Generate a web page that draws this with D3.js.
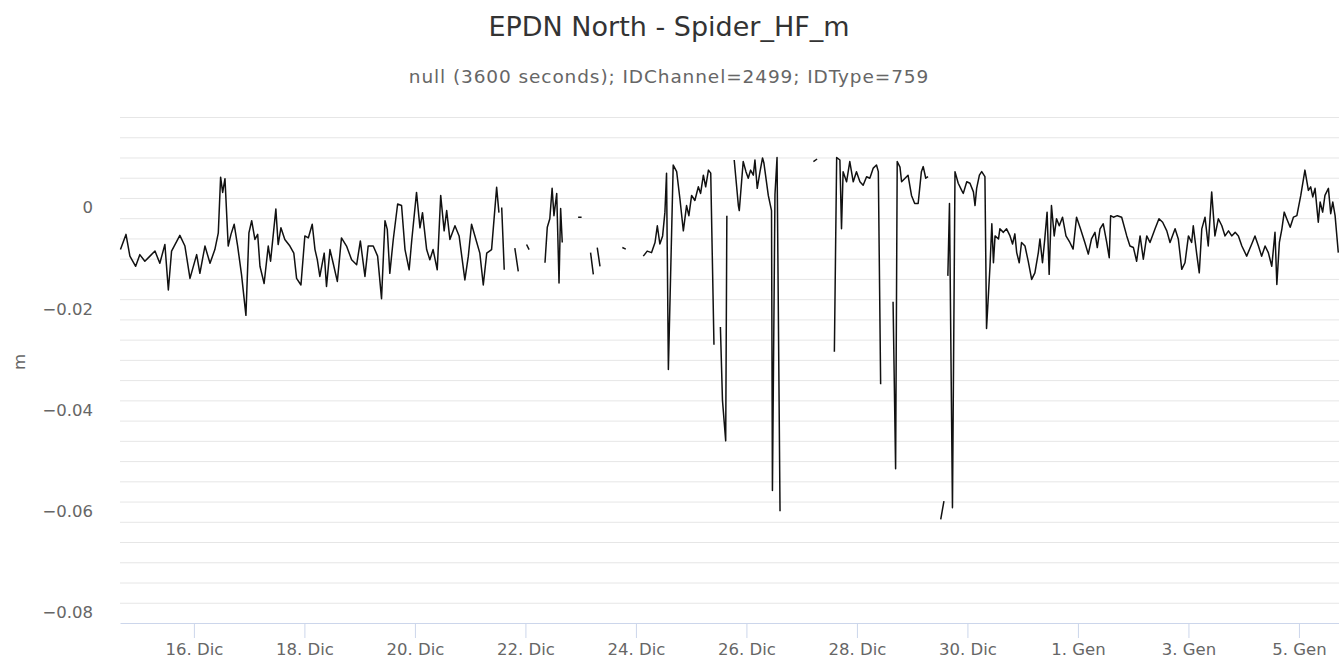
<!DOCTYPE html>
<html>
<head>
<meta charset="utf-8">
<script src="https://cdn.jsdelivr.net/npm/d3@7/dist/d3.min.js"></script>
<style>
html, body { margin: 0; padding: 0; background: #fff; }
svg { display: block; font-family: "DejaVu Sans", sans-serif; }
</style>
</head>
<body>
<div id="chart"></div>
<script>
var chartTitle = "EPDN North - Spider_HF_m";
var chartSubtitle = "null (3600 seconds); IDChannel=2499; IDType=759";
var yTitle = "m";

// hours from 16 Dic 00:00 (UTC); null marks a gap in the series
var obsHours = [
  -31.9,-29.5,-27.8,-25.3,-23.5,-21.3,-19.1,-16.9,-14.8,-12.6,-11.1,-9.7,-6.1,-3.9,-1.7,
  1.2,2.6,4.8,7.0,9.1,10.6,11.6,12.5,13.5,14.9,16.1,17.5,19.0,20.7,22.6,23.9,25.1,26.5,27.7,
  28.7,30.5,32.3,33.3,35.6,36.6,37.8,39.5,41.7,43.4,44.6,46.5,48.2,49.7,51.4,52.6,53.6,54.7,
  56.6,57.6,59.1,60.5,62.3,64.1,66.3,68.5,70.7,72.3,74.3,75.7,77.9,79.8,81.5,83.0,84.0,85.1,
  86.6,88.5,90.2,91.7,93.5,94.6,96.7,98.2,99.3,101.1,102.5,103.9,105.7,107.2,108.7,109.8,
  111.2,113.4,115.2,117.7,119.2,120.6,122.5,124.2,125.7,127.2,129.3,131.5,132.5,null,
  133.7,134.8,null,139.4,140.9,null,144.5,145.6,null,
  152.5,153.5,154.6,155.6,156.4,157.6,158.6,159.3,160.0,null,
  166.9,168.4,null,172.3,173.5,null,175.2,176.4,null,186.1,187.6,null,
  195.2,196.9,198.8,200.3,201.3,202.4,203.6,204.6,205.3,206.1,208.2,209.7,211.1,212.6,214.0,
  215.0,216.2,217.6,219.1,220.1,221.3,222.3,223.5,224.5,225.9,null,
  228.7,229.6,231.0,231.5,null,
  234.7,236.5,236.9,237.9,238.6,239.8,240.8,241.8,243.0,243.7,244.7,245.9,247.0,247.6,249.5,
  250.9,251.3,252.4,253.3,254.6,null,
  269.1,270.7,null,
  278.2,279.2,280.6,281.3,282.0,283.5,284.9,286.4,287.8,289.3,290.7,292.2,293.6,295.1,296.5,
  297.3,298.3,null,
  303.7,304.8,305.5,306.7,307.4,310.2,311.7,313.1,314.6,316.0,316.8,317.9,318.9,null,
  324.4,325.8,null,
  327.5,328.2,329.5,330.6,332.0,333.5,334.2,335.7,337.1,338.6,339.3,340.0,341.2,342.2,343.6,
  344.3,345.8,346.6,347.3,348.0,349.5,350.1,351.6,353.0,354.5,355.6,356.6,357.4,358.5,359.5,
  361.0,362.4,363.9,365.3,366.8,367.5,368.6,369.6,370.6,371.5,372.5,373.7,374.7,375.9,377.3,
  378.8,380.5,381.9,383.4,385.1,387.0,388.5,389.9,391.4,392.4,393.6,395.0,396.5,397.6,398.2,
  399.4,401.1,403.0,405.2,406.6,408.1,409.5,411.0,412.4,413.9,415.3,417.5,419.2,420.8,422.6,
  424.0,426.2,427.6,429.1,430.5,432.0,433.4,434.1,435.6,436.7,437.8,439.2,440.6,442.1,443.5,
  445.0,446.5,447.9,449.4,450.8,452.3,453.7,455.2,457.3,459.5,460.9,462.4,463.8,465.3,466.7,
  468.2,469.6,470.4,471.5,472.6,473.6,474.7,476.2,477.6,479.1,480.8,482.6,484.1,485.1,486.0,
  487.0,488.4,489.2,490.3,491.3,492.8,493.8,494.7,495.7,497.1
];
var obsValues = [
  -0.0102,-0.0072,-0.0115,-0.0135,-0.0112,-0.0125,-0.0115,-0.0105,-0.0129,-0.0092,-0.0182,-0.0105,-0.0074,-0.0095,-0.0159,
  -0.0112,-0.0149,-0.0095,-0.0129,-0.0102,-0.0069,0.0041,0.0011,0.0038,-0.0095,-0.0072,-0.0052,-0.0095,-0.0152,-0.0232,-0.0069,-0.0045,-0.0082,-0.0072,
  -0.0135,-0.0169,-0.0095,-0.0125,-0.0022,-0.0092,-0.0059,-0.0082,-0.0095,-0.0109,-0.0159,-0.0172,-0.0075,-0.0079,-0.0052,-0.0102,-0.0122,-0.0155,
  -0.0109,-0.0175,-0.0102,-0.0129,-0.0165,-0.0079,-0.0095,-0.0122,-0.0132,-0.0085,-0.0155,-0.0095,-0.0095,-0.0115,-0.0199,-0.0045,-0.0062,-0.0149,
  -0.0082,-0.0012,-0.0015,-0.0102,-0.0142,-0.0085,0.0011,-0.0059,-0.0029,-0.0102,-0.0122,-0.0102,-0.0142,0.0005,-0.0065,-0.0025,
  -0.0082,-0.0055,-0.0075,-0.0162,-0.0115,-0.0052,-0.0082,-0.0109,-0.0172,-0.0109,-0.0102,0.0021,-0.0029,null,
  -0.0019,-0.0142,null,-0.0099,-0.0145,null,-0.0092,-0.0102,null,
  -0.0128,-0.0058,-0.0041,0.0019,-0.0035,0.0009,-0.0168,-0.0021,-0.0088,null,
  -0.0038,-0.0038,null,-0.0108,-0.0151,null,-0.0098,-0.0135,null,-0.0098,-0.0101,null,
  -0.0115,-0.0105,-0.0108,-0.0088,-0.0055,-0.0091,-0.0075,-0.0028,0.0049,-0.0339,0.0065,0.0052,-0.0001,-0.0065,-0.0015,
  -0.0035,0.0005,-0.0005,0.0022,0.0009,0.0045,0.0022,0.0055,0.0049,-0.0290,null,
  -0.0255,-0.0400,-0.0480,-0.0035,null,
  0.0075,-0.0015,-0.0025,0.0032,0.0072,0.0052,0.0039,0.0055,0.0045,0.0075,0.0019,0.0052,0.0079,0.0069,0.0005,
  -0.0025,-0.0578,0.0007,0.0080,-0.0619,null,
  0.0072,0.0077,null,
  -0.0304,0.0080,0.0075,-0.0061,0.0052,0.0032,0.0072,0.0032,0.0052,0.0032,0.0025,0.0042,0.0039,0.0059,0.0065,
  0.0052,-0.0368,null,
  -0.0205,-0.0535,0.0072,0.0061,0.0032,0.0045,0.0005,-0.0011,-0.0011,0.0052,0.0062,0.0039,0.0042,null,
  -0.0635,-0.0599,null,
  -0.0154,-0.0011,-0.0612,0.0052,0.0029,0.0015,0.0009,0.0032,0.0029,0.0012,-0.0015,0.0019,0.0045,0.0052,0.0042,
  -0.0258,-0.0135,-0.0051,-0.0128,-0.0075,-0.0081,-0.0061,-0.0068,-0.0061,-0.0075,-0.0091,-0.0071,-0.0108,-0.0128,-0.0088,
  -0.0095,-0.0125,-0.0161,-0.0148,-0.0108,-0.0081,-0.0128,-0.0081,-0.0028,-0.0151,-0.0015,-0.0075,-0.0041,-0.0055,-0.0038,
  -0.0075,-0.0088,-0.0101,-0.0038,-0.0061,-0.0088,-0.0111,-0.0081,-0.0068,-0.0098,-0.0061,-0.0051,-0.0088,-0.0118,-0.0035,
  -0.0038,-0.0035,-0.0038,-0.0075,-0.0095,-0.0098,-0.0125,-0.0075,-0.0121,-0.0075,-0.0088,-0.0061,-0.0041,-0.0048,-0.0065,
  -0.0088,-0.0061,-0.0081,-0.0141,-0.0128,-0.0075,-0.0088,-0.0055,-0.0111,-0.0148,-0.0061,-0.0038,-0.0095,0.0012,-0.0075,
  -0.0041,-0.0055,-0.0075,-0.0065,-0.0075,-0.0068,-0.0075,-0.0095,-0.0115,-0.0091,-0.0075,-0.0095,-0.0115,-0.0095,-0.0108,
  -0.0135,-0.0068,-0.0171,-0.0088,-0.0061,-0.0028,-0.0041,-0.0058,-0.0038,-0.0035,0.0005,0.0055,0.0015,0.0022,0.0002,
  0.0019,-0.0048,-0.0008,-0.0028,0.0005,0.0019,-0.0031,-0.0008,-0.0035,-0.0108
];

var xTickDates = ["2015-12-16","2015-12-18","2015-12-20","2015-12-22","2015-12-24","2015-12-26",
                  "2015-12-28","2015-12-30","2016-01-01","2016-01-03","2016-01-05"];
var monthsIt = ["Gen","Feb","Mar","Apr","Mag","Giu","Lug","Ago","Set","Ott","Nov","Dic"];
var yLabelValues = [0, -0.02, -0.04, -0.06, -0.08];
var yGridStep = 0.004;
var yMin = -0.084, yMax = 0.016;
var xStartHour = -32.1, xEndHour = 497.4;

var W = 1339, H = 659;
var plot = {left: 120, right: 1339, top: 117, bottom: 623};

var t0 = Date.UTC(2015, 11, 16);
function hourToDate(h) { return new Date(t0 + h * 3600000); }

var data = obsHours.map(function(h, i) {
  return {t: h === null ? null : hourToDate(h), v: obsValues[i]};
});

var svg = d3.select("#chart").append("svg")
  .attr("width", W)
  .attr("height", H);

var x = d3.scaleUtc()
  .domain([hourToDate(xStartHour), hourToDate(xEndHour)])
  .range([plot.left, plot.right]);

var y = d3.scaleLinear()
  .domain([yMin, yMax])
  .range([plot.bottom, plot.top]);

// grid lines every 0.004
var gridValues = d3.range(0, Math.round((yMax - yMin) / yGridStep) + 1).map(function(i) {
  return +(yMin + i * yGridStep).toFixed(3);
});

var grid = svg.append("g")
  .attr("transform", "translate(" + plot.left + ",0)")
  .call(d3.axisLeft(y).tickValues(gridValues.filter(function(v) { return v > yMin; }))
    .tickSize(-(plot.right - plot.left)).tickFormat(""));
grid.select(".domain").remove();
grid.selectAll("line").attr("stroke", "#e6e6e6").attr("stroke-width", 1);

// y labels (sit a bit below their grid line)
var yLab = svg.append("g")
  .attr("transform", "translate(" + plot.left + ",0)")
  .call(d3.axisLeft(y).tickValues(yLabelValues).tickSize(0)
    .tickFormat(function(d) { return d === 0 ? "0" : d3.format(".2f")(d); }));
yLab.select(".domain").remove();
yLab.selectAll("text")
  .attr("x", -27)
  .attr("dy", null)
  .attr("y", 15)
  .attr("fill", "#666")
  .style("font-size", "16.5px")
  .style("font-family", "DejaVu Sans, sans-serif");

// x axis
var xAxis = svg.append("g")
  .attr("transform", "translate(0," + plot.bottom + ")")
  .call(d3.axisBottom(x)
    .tickValues(xTickDates.map(function(s) { return new Date(s + "T00:00:00Z"); }))
    .tickSize(15)
    .tickSizeOuter(0)
    .tickFormat(function(d) { return d.getUTCDate() + ". " + monthsIt[d.getUTCMonth()]; }));
xAxis.select(".domain").attr("stroke", "#ccd6eb");
xAxis.selectAll("line").attr("stroke", "#ccd6eb");
xAxis.selectAll("text")
  .attr("dy", null)
  .attr("y", 32)
  .attr("fill", "#666")
  .style("font-size", "16.5px")
  .style("font-family", "DejaVu Sans, sans-serif");

// series
var line = d3.line()
  .defined(function(d) { return d.v !== null; })
  .x(function(d) { return x(d.t); })
  .y(function(d) { return y(d.v); });

svg.append("path")
  .datum(data)
  .attr("fill", "none")
  .attr("stroke", "#111")
  .attr("stroke-width", 1.5)
  .attr("stroke-linejoin", "round")
  .attr("d", line);

// titles
svg.append("text")
  .attr("x", 669).attr("y", 36)
  .attr("text-anchor", "middle")
  .attr("fill", "#333")
  .style("font-size", "27px")
  .text(chartTitle);

svg.append("text")
  .attr("x", 669).attr("y", 83)
  .attr("text-anchor", "middle")
  .attr("fill", "#666")
  .style("font-size", "18.5px")
  .style("letter-spacing", "0.9px")
  .text(chartSubtitle);

svg.append("text")
  .attr("transform", "translate(19," + ((plot.top + plot.bottom) / 2 - 8) + ") rotate(-90)")
  .attr("text-anchor", "middle")
  .attr("dominant-baseline", "central")
  .attr("fill", "#666")
  .style("font-size", "16.5px")
  .text(yTitle);
</script>
</body>
</html>
